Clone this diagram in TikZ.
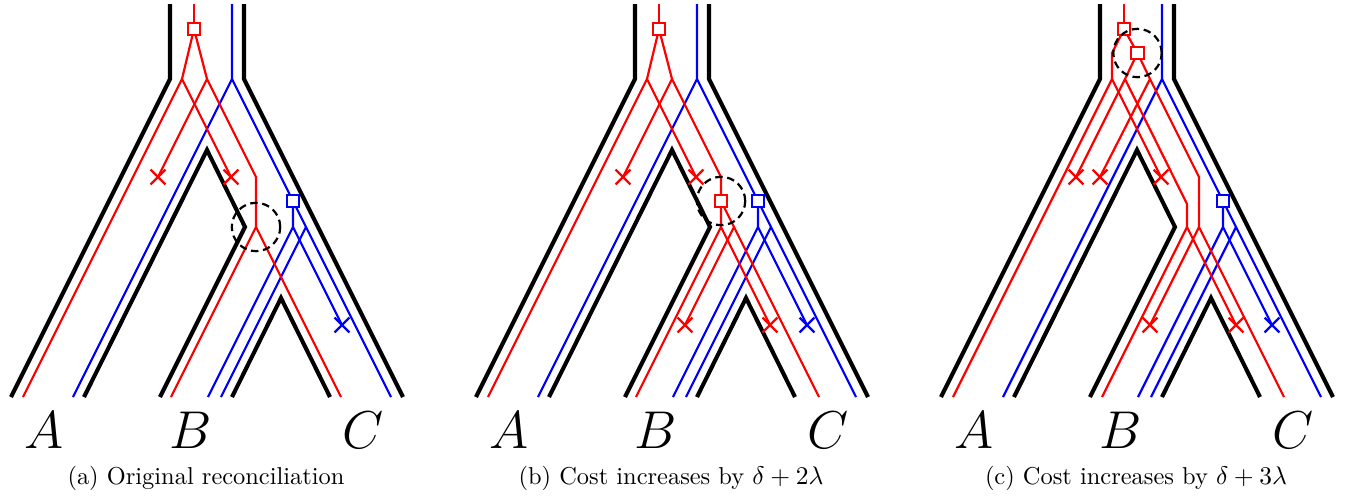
\documentclass[tikz,border=0pt]{standalone}
\usepackage{graphicx}
\usetikzlibrary{shapes.misc}
\newcommand\spTree{%
  \coordinate (LT) at (170,4); \coordinate (LR) at (170,79); \coordinate (LB) at (11,397);
  \coordinate (RT) at (244,4); \coordinate (RR) at (244,79); \coordinate (RB) at (403,397);
  \coordinate (AAP) at (207,150); \coordinate (AB) at (84,397);
  \coordinate (KINK) at (245,227); \coordinate (BL) at (160,397);
  \coordinate (BCAP) at (281,298); \coordinate (BB) at (232,397); \coordinate (CB) at (330,397);
  \draw[sp] (LT) -- (LR) -- (LB);
  \draw[sp] (RT) -- (RR) -- (RB);
  \draw[sp] (AB) -- (AAP) -- (KINK) -- (BL);
  \draw[sp] (BB) -- (BCAP) -- (CB);
}
\newcommand\blueGene{%
  \coordinate (b0) at (232,4); \coordinate (bs) at (232,79);
  \coordinate (bA) at (73,397); \coordinate (bC) at (391,397);
  \coordinate (bdc) at (293,201); \coordinate (bv) at (293,227);
  \coordinate (bBa) at (208,397); \coordinate (bx) at (342,325);
  \coordinate (bj) at (306,227); \coordinate (bBb) at (221,397);
  \draw[gb] (b0) -- (bs) -- (bA);
  \draw[gb] (bs) -- (bC);
  \draw[gb] (bdc) -- (bv) -- (bBa);
  \draw[gb] (bv) -- (bx);
  \draw[gb] (bj) -- (bBb);
  \node[dupb] (BD) at (bdc) {};
  \node[lossb] (BX) at (bx) {};
}
\newcommand\leafLabels{%
  \node[leaf] (LA) at (44,448) {\scalebox{0.92}{\Huge$A$}};
  \node[leaf] (LBl) at (191,448) {\scalebox{0.92}{\Huge$B$}};
  \node[leaf] (LC) at (363,448) {\scalebox{0.92}{\Huge$C$}};
}
\begin{document}
\begin{tikzpicture}[x=0.43pt,y=-0.43pt,
  sp/.style={line width=1.75pt,black,line join=miter},
  gr/.style={line width=0.95pt,red},
  gb/.style={line width=0.95pt,blue},
  dupr/.style={rectangle,draw=red,fill=white,line width=0.95pt,minimum size=5.3pt,inner sep=0pt},
  dupb/.style={dupr,draw=blue},
  lossr/.style={cross out,draw=red,line width=0.95pt,minimum size=5.4pt,inner sep=0pt},
  lossb/.style={lossr,draw=blue},
  hl/.style={circle,draw=black,dash pattern=on 3.2pt off 2pt,line width=0.95pt,minimum size=20.8pt,inner sep=0pt},
  leaf/.style={anchor=base,inner sep=0pt},
  subcap/.style={anchor=base,inner sep=0pt,font=\fontsize{10.5}{12}\selectfont}]
\useasboundingbox (0,0) rectangle (1345,497);

% ---------------- panel (a)
\begin{scope}
  \spTree
  \blueGene
  \coordinate (r0) at (194,4); \coordinate (rd1) at (194,29);
  \coordinate (r1) at (182,79); \coordinate (r2) at (207,79);
  \coordinate (rA) at (23,397); \coordinate (rx1) at (231,177); \coordinate (rx2) at (158,177);
  \coordinate (rk) at (256,177); \coordinate (rs) at (256,227);
  \coordinate (rB) at (171,397); \coordinate (rC) at (341,397);
  \draw[gr] (r0) -- (rd1);
  \draw[gr] (rd1) -- (r1) -- (rA);
  \draw[gr] (r1) -- (rx1);
  \draw[gr] (rd1) -- (r2) -- (rx2);
  \draw[gr] (r2) -- (rk) -- (rs) -- (rB);
  \draw[gr] (rs) -- (rC);
  \node[dupr] (D1) at (rd1) {};
  \node[lossr] (X1) at (rx1) {};
  \node[lossr] (X2) at (rx2) {};
  \node[hl] (H) at (rs) {};
  \leafLabels
  \node[subcap] (CAPa) at (206,484) {(a) Original reconciliation};
\end{scope}

% ---------------- panel (b)
\begin{scope}[shift={(465,0)}]
  \spTree
  \blueGene
  \coordinate (r0) at (194,4); \coordinate (rd1) at (194,29);
  \coordinate (r1) at (182,79); \coordinate (r2) at (207,79);
  \coordinate (rA) at (23,397); \coordinate (rx1) at (231,177); \coordinate (rx2) at (158,177);
  \coordinate (rk) at (256,177); \coordinate (rdc) at (256,201);
  \coordinate (rs) at (256,227); \coordinate (rs2) at (269,227);
  \coordinate (rB) at (171,397); \coordinate (rxC) at (305,325);
  \coordinate (rxB) at (220,325); \coordinate (rC) at (354,397);
  \draw[gr] (r0) -- (rd1);
  \draw[gr] (rd1) -- (r1) -- (rA);
  \draw[gr] (r1) -- (rx1);
  \draw[gr] (rd1) -- (r2) -- (rx2);
  \draw[gr] (r2) -- (rk) -- (rs) -- (rB);
  \draw[gr] (rs) -- (rxC);
  \draw[gr] (rdc) -- (rs2) -- (rxB);
  \draw[gr] (rs2) -- (rC);
  \node[dupr] (D1) at (rd1) {};
  \node[dupr] (D2) at (rdc) {};
  \node[lossr] (X1) at (rx1) {};
  \node[lossr] (X2) at (rx2) {};
  \node[lossr] (X3) at (rxC) {};
  \node[lossr] (X4) at (rxB) {};
  \node[hl] (H) at (rdc) {};
  \leafLabels
  \node[subcap] (CAPb) at (206,484) {(b) Cost increases by $\delta+2\lambda$};
\end{scope}

% ---------------- panel (c)
\begin{scope}[shift={(930,0)}]
  \spTree
  \blueGene
  \coordinate (r0) at (194,4); \coordinate (rd1) at (194,29);
  \coordinate (rm) at (182,53); \coordinate (rd2) at (207.5,53);
  \coordinate (r1) at (182,79); \coordinate (r2) at (195,79); \coordinate (r3) at (220,79);
  \coordinate (rA) at (23,397); \coordinate (rx1) at (231,177);
  \coordinate (rx2) at (146,177); \coordinate (rx3) at (170,177);
  \coordinate (rk1) at (257,204); \coordinate (rk2) at (269,177);
  \coordinate (rs) at (257,227); \coordinate (rs2) at (269,227);
  \coordinate (rB) at (172,397); \coordinate (rxC) at (306,325);
  \coordinate (rxB) at (220,325); \coordinate (rC) at (354,397);
  \draw[gr] (r0) -- (rd1);
  \draw[gr] (rd1) -- (rm) -- (r1) -- (rA);
  \draw[gr] (r1) -- (rx1);
  \draw[gr] (rd1) -- (rd2);
  \draw[gr] (rd2) -- (r2) -- (rx2);
  \draw[gr] (r2) -- (rk1) -- (rs) -- (rB);
  \draw[gr] (rd2) -- (r3) -- (rx3);
  \draw[gr] (r3) -- (rk2) -- (rs2) -- (rC);
  \draw[gr] (rs) -- (rxC);
  \draw[gr] (rs2) -- (rxB);
  \node[dupr] (D1) at (rd1) {};
  \node[dupr] (D2) at (rd2) {};
  \node[lossr] (X1) at (rx1) {};
  \node[lossr] (X2) at (rx2) {};
  \node[lossr] (X3) at (rx3) {};
  \node[lossr] (X4) at (rxC) {};
  \node[lossr] (X5) at (rxB) {};
  \node[hl] (H) at (rd2) {};
  \leafLabels
  \node[subcap] (CAPc) at (206,484) {(c) Cost increases by $\delta+3\lambda$};
\end{scope}
\end{tikzpicture}
\end{document}
